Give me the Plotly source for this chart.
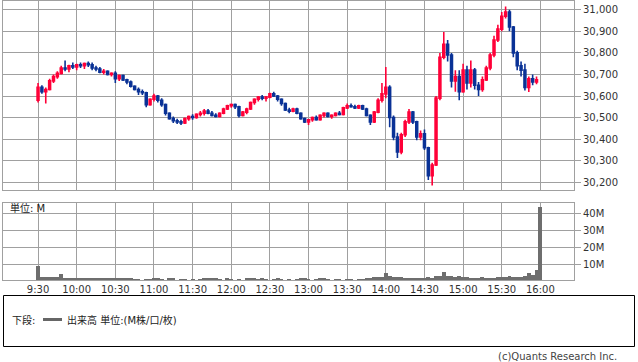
import plotly.graph_objects as go

W, H = 638, 362

# ---- data (3-minute candles, minutes after 9:30) ----
opens = [30580, 30640, 30620, 30630, 30670, 30690, 30705, 30730, 30725, 30740,
         30735, 30745, 30740, 30750, 30745, 30730, 30725, 30710, 30715, 30700,
         30705, 30680, 30695, 30675, 30665, 30645, 30630, 30620, 30615, 30560,
         30585, 30600, 30580, 30560, 30520, 30495, 30485, 30480, 30475, 30495,
         30505, 30500, 30515, 30520, 30530, 30520, 30510, 30505, 30520, 30540,
         30555, 30560, 30550, 30510, 30525, 30540, 30570, 30585, 30595, 30590,
         30595, 30610, 30600, 30585, 30565, 30535, 30530, 30540, 30520, 30495,
         30480, 30490, 30500, 30490, 30510, 30520, 30505, 30510, 30520, 30515,
         30545, 30555, 30550, 30545, 30555, 30540, 30510, 30480, 30525, 30580,
         30610, 30640, 30500, 30410, 30340, 30420, 30480, 30525, 30480, 30410,
         30425, 30360, 30230, 30280, 30590, 30780, 30840, 30790, 30670, 30690,
         30620, 30720, 30660, 30720, 30650, 30630, 30675, 30730, 30790, 30860,
         30910, 30970, 30990, 30920, 30800, 30740, 30720, 30640, 30680, 30665]
highs = [30660, 30650, 30640, 30680, 30700, 30715, 30740, 30765, 30745, 30755,
         30750, 30755, 30755, 30760, 30755, 30740, 30735, 30725, 30720, 30710,
         30715, 30700, 30700, 30680, 30672, 30650, 30640, 30630, 30620, 30590,
         30610, 30605, 30590, 30565, 30525, 30505, 30495, 30490, 30500, 30510,
         30515, 30520, 30530, 30540, 30540, 30530, 30520, 30525, 30545, 30560,
         30565, 30565, 30555, 30530, 30545, 30575, 30590, 30600, 30605, 30600,
         30615, 30620, 30605, 30590, 30570, 30545, 30545, 30545, 30525, 30500,
         30495, 30505, 30510, 30515, 30525, 30525, 30515, 30525, 30530, 30550,
         30565, 30565, 30560, 30560, 30560, 30545, 30515, 30530, 30590, 30660,
         30735, 30650, 30510, 30430, 30430, 30490, 30540, 30530, 30485, 30440,
         30445, 30365, 30290, 30600, 30800, 30897, 30860, 30800, 30720, 30720,
         30750, 30740, 30765, 30730, 30665, 30690, 30740, 30800, 30880, 30930,
         30990, 31015, 31000, 30925, 30810, 30760, 30750, 30690, 30700, 30690]
lows = [30570, 30610, 30565, 30625, 30660, 30680, 30700, 30715, 30710, 30725,
        30720, 30730, 30725, 30735, 30720, 30715, 30705, 30700, 30695, 30690,
        30660, 30670, 30670, 30655, 30640, 30625, 30605, 30605, 30548, 30555,
        30575, 30570, 30550, 30510, 30490, 30475, 30470, 30465, 30470, 30485,
        30490, 30495, 30505, 30510, 30515, 30505, 30500, 30500, 30515, 30535,
        30545, 30540, 30500, 30505, 30515, 30535, 30560, 30575, 30580, 30575,
        30590, 30595, 30575, 30555, 30530, 30520, 30525, 30515, 30490, 30475,
        30465, 30480, 30485, 30485, 30500, 30500, 30495, 30505, 30510, 30510,
        30540, 30545, 30540, 30540, 30535, 30505, 30465, 30475, 30520, 30570,
        30590, 30455, 30395, 30313, 30330, 30410, 30470, 30470, 30395, 30395,
        30350, 30210, 30185, 30275, 30580, 30770, 30760, 30640, 30620, 30580,
        30615, 30630, 30640, 30630, 30600, 30620, 30670, 30720, 30780, 30850,
        30900, 30960, 30900, 30780, 30720, 30690, 30625, 30618, 30650, 30655]
closes = [30640, 30620, 30630, 30670, 30690, 30705, 30730, 30725, 30740, 30735,
          30745, 30740, 30750, 30745, 30730, 30725, 30710, 30715, 30700, 30705,
          30680, 30695, 30675, 30665, 30645, 30630, 30620, 30615, 30560, 30585,
          30600, 30580, 30560, 30520, 30495, 30485, 30480, 30475, 30495, 30505,
          30500, 30515, 30520, 30530, 30520, 30510, 30505, 30520, 30540, 30555,
          30560, 30550, 30510, 30525, 30540, 30570, 30585, 30595, 30590, 30595,
          30610, 30600, 30585, 30565, 30535, 30530, 30540, 30520, 30495, 30480,
          30490, 30500, 30490, 30510, 30520, 30505, 30510, 30520, 30515, 30545,
          30555, 30550, 30545, 30555, 30540, 30510, 30480, 30525, 30580, 30610,
          30640, 30500, 30410, 30340, 30420, 30480, 30525, 30480, 30410, 30425,
          30360, 30230, 30280, 30590, 30780, 30840, 30790, 30670, 30690, 30620,
          30720, 30660, 30720, 30650, 30630, 30675, 30730, 30790, 30860, 30910,
          30970, 30990, 30920, 30800, 30740, 30720, 30640, 30680, 30665, 30675]

# volume in millions (3-minute buckets, plus the 16:00 closing print)
volumes = [9.0, 2.8, 2.6, 2.8, 2.7, 2.6, 4.2, 2.2,
           2.1, 2.0, 2.1, 2.1, 2.0, 2.1, 2.0, 2.1, 2.1, 2.0, 2.1, 2.0, 2.1, 2.1, 2.0, 2.1, 2.0,
           1.2, 1.1, 1.0, 1.2, 1.1,
           2.0, 2.0,
           1.1, 1.0,
           2.0, 2.1,
           1.0, 1.1, 1.2, 1.0, 1.1, 1.0, 1.2,
           2.0, 2.0, 2.1, 2.0, 1.1,
           1.0, 2.0, 1.1,
           1.0, 1.2, 1.0,
           2.0, 2.1, 2.0, 1.2,
           2.0,
           1.1, 1.0, 1.2,
           2.0, 1.1,
           1.0, 1.1, 1.0, 1.2,
           2.0, 2.0,
           1.1, 1.0, 1.2,
           2.0, 2.0, 1.1,
           1.0, 1.2, 1.1, 1.0, 1.2, 1.1, 1.0, 1.2, 1.1, 2.0,
           2.2, 2.3, 2.5, 2.3,
           4.8,
           3.0, 2.8, 2.7,
           2.3, 2.2, 2.1, 2.1, 2.0, 2.1,
           2.2, 2.3, 2.2, 3.2, 3.4,
           5.3,
           3.0, 2.9, 2.8, 3.0, 2.5, 2.4,
           2.1, 2.0, 2.1, 2.3, 2.0, 2.2, 2.1, 2.3,
           2.8, 2.7, 2.9, 2.8, 2.7, 2.8, 3.0,
           5.0, 3.6, 6.5,
           44.0]

time_labels = ["9:30", "10:00", "10:30", "11:00", "11:30", "12:00", "12:30",
               "13:00", "13:30", "14:00", "14:30", "15:00", "15:30", "16:00"]
price_ticks = [30200, 30300, 30400, 30500, 30600, 30700, 30800, 30900, 31000]
vol_ticks = [10, 20, 30, 40]
vol_tick_labels = ["10M", "20M", "30M", "40M"]

# ---- positions ----
candle_x = [3 * i for i in range(len(closes))]
vol_x = [3 * i for i in range(len(volumes) - 1)] + [390]
tick_x = [30 * i for i in range(len(time_labels))]

RED = "#FF0038"
BLUE = "#0A3296"
GRID = "#A0A0A0"
FONT = "DejaVu Sans, Noto Sans CJK JP"

def fx(px):
    return px / W

def fy(py):
    return 1 - py / H

fig = go.Figure()
fig.add_trace(go.Candlestick(
    x=candle_x, open=opens, high=highs, low=lows, close=closes,
    increasing=dict(line=dict(color=RED, width=1.6), fillcolor=RED),
    decreasing=dict(line=dict(color=BLUE, width=1.6), fillcolor=BLUE),
    whiskerwidth=0, xaxis="x", yaxis="y", showlegend=False, hoverinfo="skip"))
fig.add_trace(go.Bar(
    x=vol_x, y=volumes, marker=dict(color="#6E6E6E", line=dict(width=0)),
    xaxis="x2", yaxis="y2", showlegend=False, hoverinfo="skip"))

xr = [-27.2, 416.1]
xdom = [fx(3), fx(574)]
axis_common = dict(showline=True, linecolor=GRID, linewidth=1, mirror=True,
                   showgrid=True, gridcolor=GRID, gridwidth=1, zeroline=False,
                   tickfont=dict(family=FONT, size=10, color="#333333"))

fig.update_layout(
    width=W, height=H, margin=dict(l=0, r=0, t=0, b=0),
    paper_bgcolor="white", plot_bgcolor="white", bargap=0,
    xaxis=dict(domain=xdom, range=xr, anchor="y", tickvals=tick_x,
               showticklabels=False, ticks="", rangeslider=dict(visible=False),
               **axis_common),
    yaxis=dict(domain=[fy(190), fy(0.5)], range=[30164, 31043], side="right",
               anchor="x", tickvals=price_ticks, tickformat=",d",
               ticks="outside", ticklen=6, tickcolor=GRID, **axis_common),
    xaxis2=dict(domain=xdom, range=xr, anchor="y2", tickvals=tick_x,
                ticktext=time_labels, ticks="", **axis_common),
    yaxis2=dict(domain=[fy(280), fy(203)], range=[0.8, 46.3], side="right",
                anchor="x2", tickvals=vol_ticks, ticktext=vol_tick_labels,
                ticks="outside", ticklen=6, tickcolor=GRID, **axis_common),
    shapes=[
        dict(type="rect", xref="paper", yref="paper",
             x0=fx(3.5), x1=fx(634.5), y0=fy(346.5), y1=fy(295.5),
             line=dict(color="black", width=1)),
        dict(type="line", xref="paper", yref="paper",
             x0=fx(43), x1=fx(62), y0=fy(319.5), y1=fy(319.5),
             line=dict(color="#666666", width=3)),
    ],
    annotations=[
        dict(text="単位: M", xref="paper", yref="paper", x=fx(8), y=fy(208.5),
             xanchor="left", yanchor="middle", showarrow=False,
             font=dict(family=FONT, size=10, color="#222222")),
        dict(text="下段:", xref="paper", yref="paper", x=fx(10), y=fy(319.5),
             xanchor="left", yanchor="middle", showarrow=False,
             font=dict(family=FONT, size=10, color="#222222")),
        dict(text="出来高 単位:(M株/口/枚)", xref="paper", yref="paper",
             x=fx(65), y=fy(319.5), xanchor="left", yanchor="middle",
             showarrow=False, font=dict(family=FONT, size=10, color="#222222")),
        dict(text="(c)Quants Research Inc.", xref="paper", yref="paper",
             x=fx(619), y=fy(356.5), xanchor="right", yanchor="middle",
             showarrow=False, font=dict(family=FONT, size=10, color="#444444")),
    ],
)

fig.write_html("out.html")
